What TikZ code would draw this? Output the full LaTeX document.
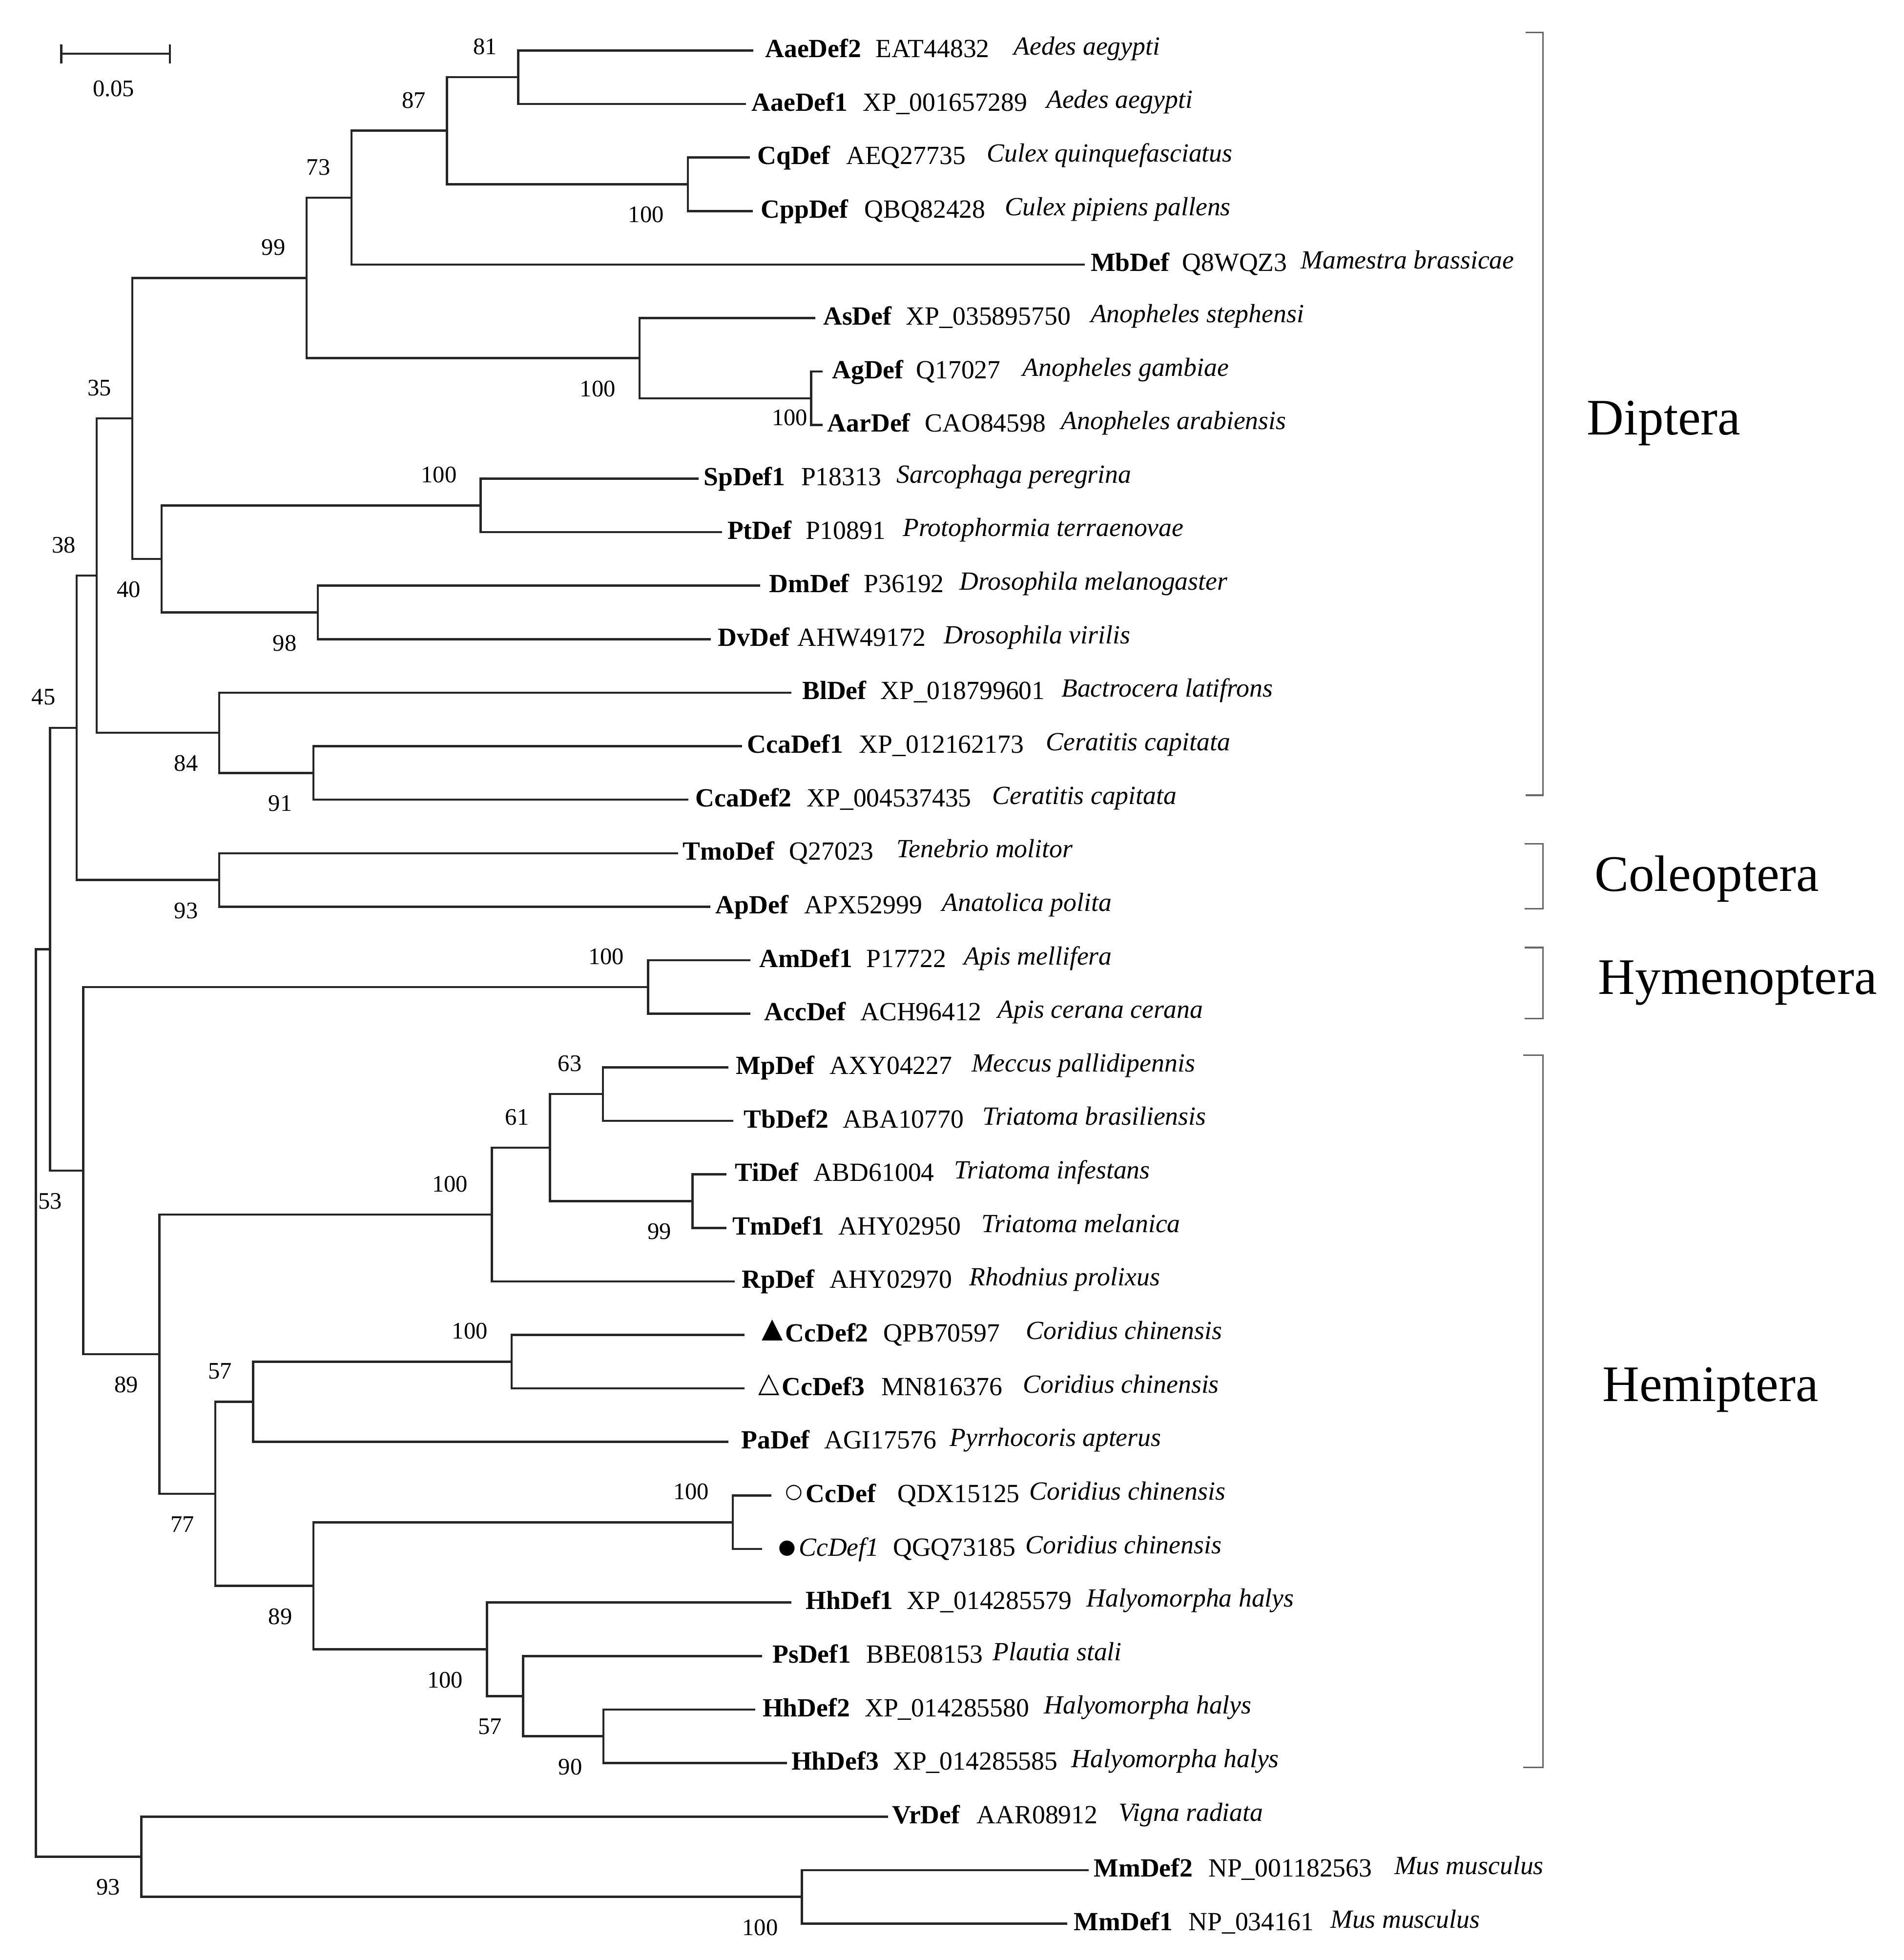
\documentclass[tikz,border=0pt]{standalone}
\usepackage{fontspec}
\setmainfont{Liberation Serif}
\newfontfamily\symfont{DejaVu Sans}
\usetikzlibrary{calc}
\newcommand{\lffont}{\fontsize{21}{25}\selectfont}
\newcommand{\bsfont}{\fontsize{19}{23}\selectfont}
\newcommand{\grpfont}{\fontsize{41}{49}\selectfont}
\newcommand{\leafrow}[9]{%
  \coordinate (L#1) at (#3,#2);
  \node[lname] (n#1) at (#4,#2) {#5};
  \node[lacc] (a#1) at (#6,#2) {#7};
  \node[lsp] (s#1) at (#8,#2) {#9};}
\newcommand{\clade}[3]{\draw[branch] (#1) |- (#2) (#1) |- (#3);}
\newcommand{\bsup}[3]{\node[bs] (b#1) at ($(#1)+(#3,-24.5)$) {#2};}
\newcommand{\bsdn}[3]{\node[bs] (b#1) at ($(#1)+(#3,24.5)$) {#2};}
\begin{document}
\begin{tikzpicture}[x=1pt,y=-1pt,
  branch/.style={line width=1.8pt, draw=black!85, line join=miter},
  brk/.style={line width=1.2pt, draw=black!60},
  lname/.style={anchor=base west, inner sep=0pt, yshift=-5.5pt, font=\lffont\bfseries},
  lacc/.style={anchor=base west, inner sep=0pt, yshift=-5.5pt, font=\lffont},
  lsp/.style={anchor=base west, inner sep=0pt, yshift=-3.5pt, font=\lffont\itshape},
  bs/.style={inner sep=0pt, anchor=center, font=\bsfont},
  grp/.style={anchor=base west, inner sep=0pt, font=\grpfont},
  sym/.style={inner sep=0pt, anchor=center}]
\fill[white] (0,0) rectangle (1525,1570);
\useasboundingbox (0,0) rectangle (1525,1570);

% scale bar
\coordinate (SB1) at (49,43);
\coordinate (SB2) at (136,43);
\draw[branch] (SB1) -- (SB2);
\draw[branch] ($(SB1)+(0,-7.5)$) -- ($(SB1)+(0,8)$);
\draw[branch] ($(SB2)+(0,-7.5)$) -- ($(SB2)+(0,8)$);
\node[bs] (sblabel) at (91,71) {0.05};

% leaves
\leafrow{1}{40.40}{603.2}{612.7}{AaeDef2}{701.3}{EAT44832}{811.8}{Aedes aegypti}
\leafrow{2}{83.27}{597.5}{601.8}{AaeDef1}{690.9}{XP\_001657289}{837.9}{Aedes aegypti}
\leafrow{3}{126.14}{600.7}{606.5}{CqDef}{677.6}{AEQ27735}{790.4}{Culex quinquefasciatus}
\leafrow{4}{169.01}{603}{609.3}{CppDef}{692.3}{QBQ82428}{804.7}{Culex pipiens pallens}
\leafrow{5}{211.88}{868.7}{873.4}{MbDef}{946.8}{Q8WQZ3}{1041.7}{Mamestra brassicae}
\leafrow{6}{254.75}{653}{659.2}{AsDef}{725.5}{XP\_035895750}{873.4}{Anopheles stephensi}
\leafrow{7}{297.62}{659}{666.3}{AgDef}{733.6}{Q17027}{819}{Anopheles gambiae}
\leafrow{8}{340.49}{659}{662.5}{AarDef}{740.7}{CAO84598}{849.7}{Anopheles arabiensis}
\leafrow{9}{383.36}{559.6}{563.5}{SpDef1}{641.5}{P18313}{718}{Sarcophaga peregrina}
\leafrow{10}{426.23}{578.4}{582.5}{PtDef}{645}{P10891}{722.9}{Protophormia terraenovae}
\leafrow{11}{469.10}{608.7}{616}{DmDef}{691.8}{P36192}{768.5}{Drosophila melanogaster}
\leafrow{12}{511.97}{569.4}{575}{DvDef}{638.6}{AHW49172}{756}{Drosophila virilis}
\leafrow{13}{554.84}{634}{642.4}{BlDef}{705}{XP\_018799601}{850}{Bactrocera latifrons}
\leafrow{14}{597.71}{594.5}{598.3}{CcaDef1}{688}{XP\_012162173}{837.7}{Ceratitis capitata}
\leafrow{15}{640.58}{551.5}{557}{CcaDef2}{646}{XP\_004537435}{794.7}{Ceratitis capitata}
\leafrow{16}{683.45}{543}{546.7}{TmoDef}{632}{Q27023}{718}{Tenebrio molitor}
\leafrow{17}{726.32}{569}{573}{ApDef}{644}{APX52999}{754.3}{Anatolica polita}
\leafrow{18}{769.19}{601}{608}{AmDef1}{693.6}{P17722}{772}{Apis mellifera}
\leafrow{19}{812.06}{601}{612}{AccDef}{689}{ACH96412}{799}{Apis cerana cerana}
\leafrow{20}{854.93}{583.4}{589.4}{MpDef}{664.5}{AXY04227}{778}{Meccus pallidipennis}
\leafrow{21}{897.80}{587.4}{595.7}{TbDef2}{675}{ABA10770}{786.7}{Triatoma brasiliensis}
\leafrow{22}{940.67}{581.9}{588.4}{TiDef}{651.3}{ABD61004}{764}{Triatoma infestans}
\leafrow{23}{983.54}{581.9}{586.6}{TmDef1}{671.5}{AHY02950}{786}{Triatoma melanica}
\leafrow{24}{1026.41}{588.6}{594}{RpDef}{664.5}{AHY02970}{776.2}{Rhodnius prolixus}
\leafrow{25}{1069.28}{596.2}{628.9}{CcDef2}{707.4}{QPB70597}{821.7}{Coridius chinensis}
\leafrow{26}{1112.15}{596.2}{626}{CcDef3}{705.7}{MN816376}{819.2}{Coridius chinensis}
\leafrow{27}{1155.02}{583.4}{593.6}{PaDef}{660}{AGI17576}{760.5}{Pyrrhocoris apterus}
\leafrow{28}{1197.89}{617.8}{645.3}{CcDef}{718.6}{QDX15125}{824.4}{Coridius chinensis}
\leafrow{29}{1240.76}{610.5}{639.7}{\mdseries\itshape CcDef1}{715.1}{QGQ73185}{821.3}{Coridius chinensis}
\leafrow{30}{1283.63}{633.9}{645.3}{HhDef1}{726.3}{XP\_014285579}{870}{Halyomorpha halys}
\leafrow{31}{1326.50}{610.5}{618.6}{PsDef1}{693.6}{BBE08153}{795}{Plautia stali}
\leafrow{32}{1369.37}{605}{610.6}{HhDef2}{692.4}{XP\_014285580}{836}{Halyomorpha halys}
\leafrow{33}{1412.24}{630.5}{633.7}{HhDef3}{715.1}{XP\_014285585}{858}{Halyomorpha halys}
\leafrow{34}{1455.11}{711.2}{714.3}{VrDef}{782.2}{AAR08912}{895.9}{Vigna radiata}
\leafrow{35}{1497.98}{872}{876}{MmDef2}{967.7}{NP\_001182563}{1116.6}{Mus musculus}
\leafrow{36}{1540.85}{854.8}{860}{MmDef1}{951.8}{NP\_034161}{1065.5}{Mus musculus}

% marker symbols
\node[sym, font=\symfont\fontsize{22}{22}\selectfont] (m25) at (618.8,1065.6) {▲};
\node[sym, font=\symfont\fontsize{22}{22}\selectfont] (m26) at (616,1109.3) {△};
\node[sym, font=\symfont\fontsize{16}{16}\selectfont] (m28) at (636,1195.7) {○};
\node[sym, font=\symfont\fontsize{16}{16}\selectfont] (m29) at (630.5,1240.2) {●};

% internal nodes
\coordinate (A81) at (415,61.84);
\coordinate (Acq) at (551,147.58);
\coordinate (A87) at (358,104.71);
\coordinate (A73) at (281.5,158.30);
\coordinate (Aag) at (649.7,319.06);
\coordinate (Aas) at (512.2,286.90);
\coordinate (A99) at (245.5,222.60);
\coordinate (Asp) at (385,404.80);
\coordinate (Adm) at (254.5,490.54);
\coordinate (A40) at (129.5,447.67);
\coordinate (A35) at (106,335.13);
\coordinate (A91) at (251,619.15);
\coordinate (A84) at (175.5,587.0);
\coordinate (A38) at (77.5,461.06);
\coordinate (Acol) at (175.5,704.89);
\coordinate (A45) at (61.4,582.97);
\coordinate (Ahym) at (519,790.63);
\coordinate (A63) at (482.9,876.37);
\coordinate (Ati) at (554.6,962.11);
\coordinate (A61) at (440.6,919.24);
\coordinate (Ahem) at (393.9,972.83);
\coordinate (Acc2) at (409.8,1090.72);
\coordinate (A57a) at (202.7,1122.87);
\coordinate (Acc) at (587,1219.33);
\coordinate (A90) at (483.3,1390.81);
\coordinate (A57b) at (418.9,1358.66);
\coordinate (A100b) at (390,1321.15);
\coordinate (A89b) at (251,1270.24);
\coordinate (A77) at (172.5,1196.56);
\coordinate (A89a) at (127.7,1084.70);
\coordinate (A53) at (66.6,937.67);
\coordinate (Abase) at (40,760.32);
\coordinate (Amm) at (642.3,1519.42);
\coordinate (A93) at (113.2,1487.27);
\coordinate (Root) at (28.8,1123.80);

% branches
\clade{A81}{L1}{L2}
\clade{Acq}{L3}{L4}
\clade{A87}{A81}{Acq}
\clade{A73}{A87}{L5}
\clade{Aag}{L7}{L8}
\clade{Aas}{L6}{Aag}
\clade{A99}{A73}{Aas}
\clade{Asp}{L9}{L10}
\clade{Adm}{L11}{L12}
\clade{A40}{Asp}{Adm}
\clade{A35}{A99}{A40}
\clade{A91}{L14}{L15}
\clade{A84}{L13}{A91}
\clade{A38}{A35}{A84}
\clade{Acol}{L16}{L17}
\clade{A45}{A38}{Acol}
\clade{Ahym}{L18}{L19}
\clade{A63}{L20}{L21}
\clade{Ati}{L22}{L23}
\clade{A61}{A63}{Ati}
\clade{Ahem}{A61}{L24}
\clade{Acc2}{L25}{L26}
\clade{A57a}{Acc2}{L27}
\clade{Acc}{L28}{L29}
\clade{A90}{L32}{L33}
\clade{A57b}{L31}{A90}
\clade{A100b}{L30}{A57b}
\clade{A89b}{Acc}{A100b}
\clade{A77}{A57a}{A89b}
\clade{A89a}{Ahem}{A77}
\clade{A53}{Ahym}{A89a}
\clade{Abase}{A45}{A53}
\clade{Amm}{L35}{L36}
\clade{A93}{L34}{Amm}
\clade{Root}{Abase}{A93}

% bootstrap values
\bsup{A81}{81}{-26.5}
\bsup{A87}{87}{-26.5}
\bsdn{Acq}{100}{-33.5}
\bsup{A73}{73}{-26.5}
\node[bs] (bAag) at (632.6,334.5) {100};
\bsdn{Aas}{100}{-33.5}
\bsup{A99}{99}{-26.5}
\bsup{Asp}{100}{-33.5}
\bsdn{Adm}{98}{-26.5}
\bsdn{A40}{40}{-26.5}
\bsup{A35}{35}{-26.5}
\bsdn{A91}{91}{-26.5}
\bsdn{A84}{84}{-26.5}
\bsup{A38}{38}{-26.5}
\bsdn{Acol}{93}{-26.5}
\bsup{A45}{45}{-26.5}
\bsup{Ahym}{100}{-33.5}
\bsup{A63}{63}{-26.5}
\bsdn{Ati}{99}{-26.5}
\bsup{A61}{61}{-26.5}
\bsup{Ahem}{100}{-33.5}
\bsup{Acc2}{100}{-33.5}
\bsup{A57a}{57}{-26.5}
\bsup{Acc}{100}{-33.5}
\bsdn{A90}{90}{-26.5}
\bsdn{A57b}{57}{-26.5}
\bsdn{A100b}{100}{-33.5}
\bsdn{A89b}{89}{-26.5}
\bsdn{A77}{77}{-26.5}
\bsdn{A89a}{89}{-26.5}
\bsdn{A53}{53}{-26.5}
\bsdn{Amm}{100}{-33.5}
\bsdn{A93}{93}{-26.5}

% group brackets
\coordinate (DipA) at (1222,26); \coordinate (DipB) at (1236,26);
\coordinate (DipC) at (1236,637); \coordinate (DipD) at (1222,637);
\draw[brk] (DipA) -- (DipB) -- (DipC) -- (DipD);
\coordinate (ColA) at (1221,676); \coordinate (ColB) at (1236,676);
\coordinate (ColC) at (1236,728); \coordinate (ColD) at (1221,728);
\draw[brk] (ColA) -- (ColB) -- (ColC) -- (ColD);
\coordinate (HymA) at (1221,759); \coordinate (HymB) at (1236,759);
\coordinate (HymC) at (1236,816); \coordinate (HymD) at (1221,816);
\draw[brk] (HymA) -- (HymB) -- (HymC) -- (HymD);
\coordinate (HemA) at (1220,845.2); \coordinate (HemB) at (1236,845.2);
\coordinate (HemC) at (1236,1415.7); \coordinate (HemD) at (1220,1415.7);
\draw[brk] (HemA) -- (HemB) -- (HemC) -- (HemD);

\node[grp] (gDip) at (1271,348.3) {Diptera};
\node[grp] (gCol) at (1277,714) {Coleoptera};
\node[grp] (gHym) at (1280,796.5) {Hymenoptera};
\node[grp] (gHem) at (1283.3,1122.4) {Hemiptera};
\end{tikzpicture}
\end{document}
